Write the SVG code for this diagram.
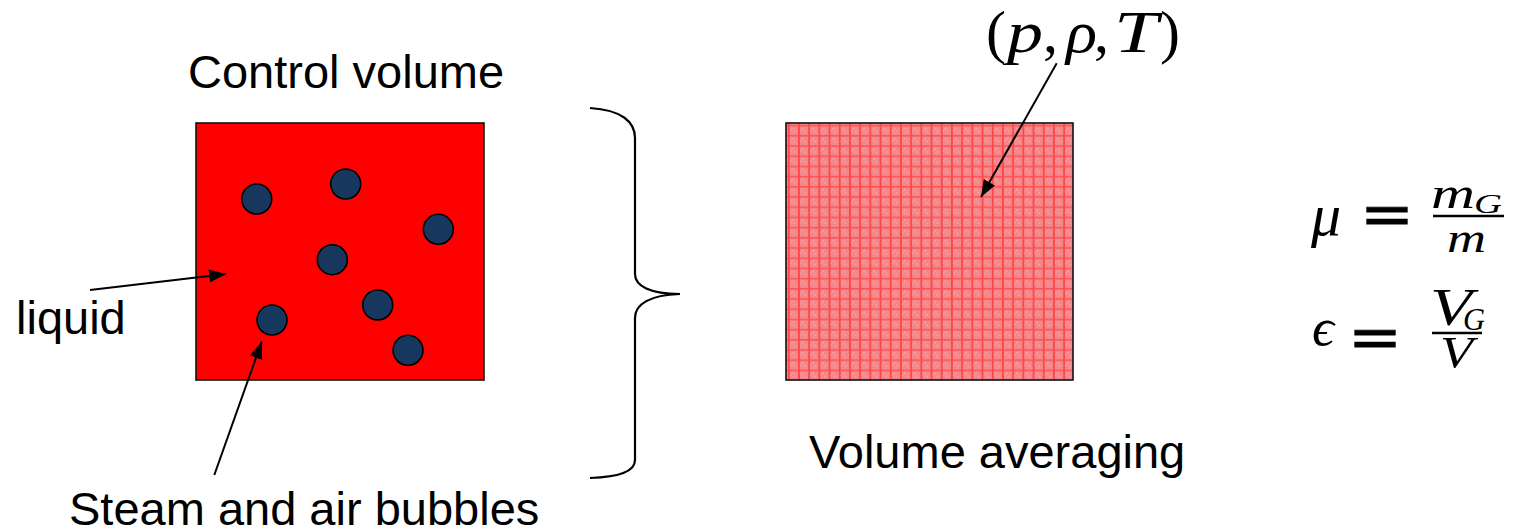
<svg xmlns="http://www.w3.org/2000/svg" width="1514" height="532" viewBox="0 0 1514 532">
  <style>
    .label { font-family: "Liberation Sans", Arial, sans-serif; font-size: 47px; fill: #000; }
    .math { font-family: "Liberation Serif", "Times New Roman", serif; font-style: italic; fill: #000; }
    .mathup { font-family: "Liberation Serif", "Times New Roman", serif; fill: #000; }
    .eq { font-family: "DejaVu Sans", sans-serif; fill: #000; stroke: #000; stroke-width: 0.8; }
    .box { stroke: #111; stroke-width: 1.6; }
    .bubble { fill: #17375e; stroke: #000; stroke-width: 1.6; }
    .conn { fill: none; stroke: #000; stroke-width: 2; }
    .brace { fill: none; stroke: #000; stroke-width: 2.2; }
  </style>
  <defs>
    <marker id="head" markerUnits="userSpaceOnUse" markerWidth="18" markerHeight="14" refX="17" refY="6.5" orient="auto">
      <path d="M0,0 L17,6.5 L0,13 z" fill="#000"/>
    </marker>
    <!-- cross-hatched fill for the averaged volume -->
    <pattern id="grid" patternUnits="userSpaceOnUse" x="786" y="123" width="10.2" height="10.2">
      <rect width="10.2" height="10.2" fill="#f4878a"/>
      <rect x="3" y="3" width="1" height="1" fill="#ffc4c4"/>
      <rect x="6" y="5" width="1" height="1" fill="#ffd0d0"/>
      <rect x="8" y="8" width="1" height="1" fill="#ffc4c4"/>
      <rect x="4" y="7" width="1" height="1" fill="#ffb8b8"/>
      <rect x="7" y="2" width="1" height="1" fill="#ffd0d0"/>
      <rect x="2" y="0" width="1.5" height="10.2" fill="#ff3a3c"/>
      <rect x="0" y="2" width="10.2" height="1.3" fill="#ff4a4c"/>
    </pattern>
  </defs>

  <!-- control volume with liquid and bubbles -->
  <g id="control-volume">
    <rect class="box" x="196" y="123" width="288" height="257" fill="#ff0000"/>
    <circle class="bubble" cx="256.7" cy="199" r="15"/>
    <circle class="bubble" cx="345.7" cy="184" r="15"/>
    <circle class="bubble" cx="438.3" cy="229.3" r="15"/>
    <circle class="bubble" cx="332.3" cy="259.7" r="15"/>
    <circle class="bubble" cx="377.7" cy="305" r="15"/>
    <circle class="bubble" cx="272" cy="320" r="15"/>
    <circle class="bubble" cx="408" cy="350.3" r="15"/>
  </g>

  <g id="control-volume-label">
    <text class="label" x="188" y="88">Control volume</text>
  </g>
  <g id="liquid-label">
    <text class="label" x="16" y="334">liquid</text>
  </g>
  <g id="bubbles-label">
    <text class="label" x="69" y="525">Steam and air bubbles</text>
  </g>

  <!-- averaged volume -->
  <g id="averaged-volume">
    <rect class="box" x="786" y="123" width="287" height="257" fill="url(#grid)"/>
  </g>
  <g id="averaging-label">
    <text class="label" x="809" y="468">Volume averaging</text>
  </g>

  <!-- state variables (p, rho, T) -->
  <g id="state-label" font-size="60">
    <text class="mathup" x="986" y="52">(</text>
    <text class="math" x="1007" y="52" textLength="36" lengthAdjust="spacingAndGlyphs">p</text>
    <text class="mathup" x="1043" y="52">,</text>
    <text class="math" x="1066" y="52" textLength="31" lengthAdjust="spacingAndGlyphs">ρ</text>
    <text class="mathup" x="1094" y="52">,</text>
    <text class="math" x="1114" y="52" textLength="44" lengthAdjust="spacingAndGlyphs">T</text>
    <text class="mathup" x="1160" y="52">)</text>
  </g>

  <!-- mass fraction -->
  <g id="mass-fraction">
    <text class="math" x="1311" y="235" font-size="60">μ</text>
    <text class="eq" x="1360" y="234" font-size="58" textLength="54" lengthAdjust="spacingAndGlyphs">=</text>
    <text class="math" x="1431" y="208" font-size="44" textLength="44" lengthAdjust="spacingAndGlyphs">m</text>
    <text class="math" x="1474" y="213" font-size="28" textLength="28" lengthAdjust="spacingAndGlyphs">G</text>
    <line x1="1433" y1="216" x2="1504" y2="216" stroke="#000" stroke-width="2.5"/>
    <text class="math" x="1447" y="252" font-size="42" textLength="39" lengthAdjust="spacingAndGlyphs">m</text>
  </g>

  <!-- void fraction -->
  <g id="void-fraction">
    <text class="math" x="1312" y="345" font-size="52" textLength="22" lengthAdjust="spacingAndGlyphs">ϵ</text>
    <text class="eq" x="1348" y="357" font-size="58" textLength="54" lengthAdjust="spacingAndGlyphs">=</text>
    <text class="math" x="1430" y="325" font-size="53" textLength="42" lengthAdjust="spacingAndGlyphs">V</text>
    <text class="math" x="1463" y="330" font-size="32" textLength="22" lengthAdjust="spacingAndGlyphs">G</text>
    <line x1="1432" y1="333" x2="1482" y2="333" stroke="#000" stroke-width="2.5"/>
    <text class="math" x="1440" y="367" font-size="45" textLength="33" lengthAdjust="spacingAndGlyphs">V</text>
  </g>

  <!-- brace joining the two views -->
  <g id="brace">
    <path class="brace" d="M590,108 C622,110 635,122 635,138 L635,274 C635,286 650,294 680,294 C650,295 635,304 635,318 L635,460 C635,470 622,477 590,478"/>
  </g>

  <g id="connectors">
    <line class="conn" x1="90" y1="290" x2="226" y2="274" marker-end="url(#head)"/>
    <line class="conn" x1="214.3" y1="475" x2="261.7" y2="341.7" marker-end="url(#head)"/>
    <line class="conn" x1="1056.7" y1="63.3" x2="981" y2="197" marker-end="url(#head)"/>
  </g>
</svg>
